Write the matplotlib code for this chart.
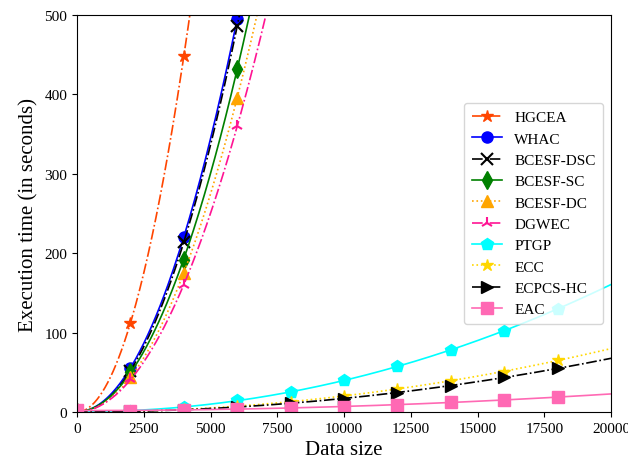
import numpy as np
import matplotlib
matplotlib.use("Agg")
import matplotlib.pyplot as plt

plt.rcParams['font.family'] = ['Liberation Serif', 'DejaVu Serif']
plt.rcParams['mathtext.fontset'] = 'stix'

# ---- data ----
x_high = [0, 2000, 4000, 6000]
hgcea_x = [0, 2000, 4000]
hgcea = [0, 112, 448]
whac = [0, 55, 221, 495]
bcesf_dsc = [0, 52, 214, 486]
bcesf_sc = [0, 50, 192, 432]
bcesf_dc = [0, 44, 175, 396]
dgwec = [0, 41, 160, 360]

x_low = [2000, 4000, 6000, 8000, 10000, 12000, 14000, 16000, 18000]
ptgp = [1.6, 6.5, 14.5, 25, 40, 57.5, 78, 102.5, 130]
ecc = [0.8, 3.2, 7.5, 12.8, 20.5, 29, 39.5, 51, 65]
ecpcs_hc = [0.7, 2.8, 6.3, 11.5, 17, 24.5, 33, 43.5, 55]
eac_x = [0, 2000, 4000, 6000, 8000, 10000, 12000, 14000, 16000, 18000]
eac = [2, 1.5, 2.8, 4, 5.5, 6.7, 9, 12, 15, 19]

xticks = [0, 2500, 5000, 7500, 10000, 12500, 15000, 17500, 20000]
yticks = [0, 100, 200, 300, 400, 500]

series = [
    ("HGCEA", hgcea_x, hgcea, dict(color='orangered', ls='-.', marker='*', ms=9)),
    ("WHAC", x_high, whac, dict(color='blue', ls='-', marker='o', ms=8)),
    ("BCESF-DSC", x_high, bcesf_dsc, dict(color='black', ls='-.', marker='x', ms=8, mew=1.5)),
    ("BCESF-SC", x_high, bcesf_sc, dict(color='green', ls='-', marker='d', ms=9)),
    ("BCESF-DC", x_high, bcesf_dc, dict(color='orange', ls=':', marker='^', ms=9)),
    ("DGWEC", x_high, dgwec, dict(color='deeppink', ls='-.', marker='2', ms=9, mew=1.5)),
    ("PTGP", x_low, ptgp, dict(color='cyan', ls='-', marker='p', ms=9)),
    ("ECC", x_low, ecc, dict(color='gold', ls=':', marker='*', ms=9)),
    ("ECPCS-HC", x_low, ecpcs_hc, dict(color='black', ls='-.', marker='>', ms=8)),
    ("EAC", eac_x, eac, dict(color='hotpink', ls='-', marker='s', ms=8)),
]

fig = plt.figure(figsize=(6.28, 4.64), dpi=100)
ax = fig.add_axes([0.1226, 0.1099, 0.8504, 0.8556])

xd = np.linspace(0, 20000, 400)
for name, xs, ys, st in series:
    coef = np.polyfit(xs, ys, 2)
    yd = np.polyval(coef, xd)
    col = st['color']
    ax.plot(xd, yd, color=col, ls=st['ls'], lw=1.2)
    ax.plot(xs, ys, ls='none', marker=st['marker'], ms=st['ms'], color=col,
            mew=st.get('mew', 1.0))

handles = [plt.Line2D([], [], color=st['color'], ls=st['ls'], lw=1.2, marker=st['marker'],
                      ms=st['ms'], mew=st.get('mew', 1.0)) for _, _, _, st in series]
labels = [s[0] for s in series]
ax.legend(handles, labels, loc='center right', fontsize=11, framealpha=0.8,
          handlelength=2.0, borderpad=0.5, labelspacing=0.5)

ax.set_xlim(0, 20000)
ax.set_ylim(0, 500)
ax.set_xticks(xticks)
ax.set_yticks(yticks)
ax.tick_params(labelsize=11)
ax.set_xlabel("Data size", fontsize=15)
ax.set_ylabel("Execution time (in seconds)", fontsize=15)

fig.savefig("out.png", dpi=100)
